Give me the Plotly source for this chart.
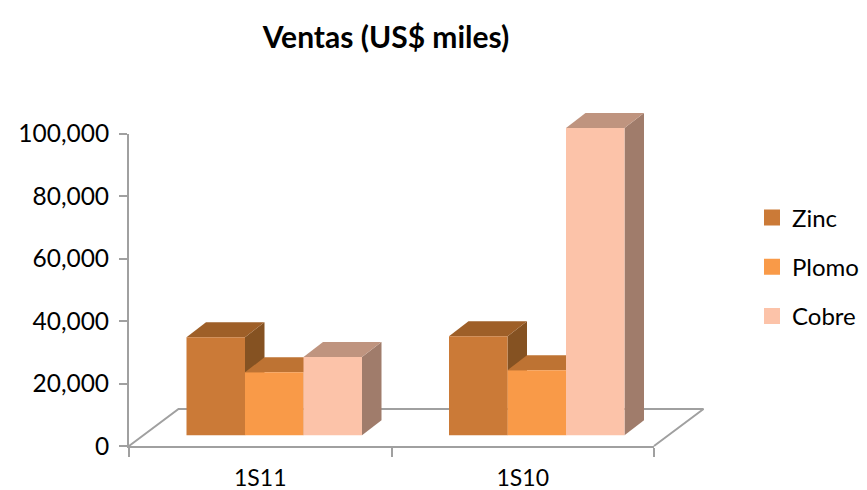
import plotly.graph_objects as go

categories = ["1S11", "1S10"]
series_names = ["Zinc", "Plomo", "Cobre"]
zinc = [31900, 32200]
plomo = [20500, 21200]
cobre = [25500, 100000]
series_values = [zinc, plomo, cobre]
front_colors = ["#CB7A37", "#F99A48", "#FCC3A9"]
top_colors = ["#9E5F28", "#BE7333", "#BF947F"]
side_colors = ["#855222", "#A5622A", "#A07C6B"]
y_ticks = [0, 20000, 40000, 60000, 80000, 100000]

W, H = 867, 490
FONT = "Lato"
AXIS_COLOR = "#A0A0A0"

# pixel frame
ax_l, ax_r, ax_t, ax_b = 129, 654, 133.5, 446
bar_dx, bar_t, bar_b = 14, 128, 435.3
px_per_cat = (ax_r - ax_l) / 2
px_per_val = (bar_b - bar_t) / 100000

bar_w = 58.5 / px_per_cat
depth_x = 19.5 / px_per_cat
depth_y = 15 / px_per_val

# full-page hidden scale for the bars and 3D faces (value units)
x_range = [-0.5 - (ax_l + bar_dx) / px_per_cat, -0.5 + (W - ax_l - bar_dx) / px_per_cat]
y_range = [-(H - bar_b) / px_per_val, bar_b / px_per_val]

# floor outline in the same units
fl = -0.5 - bar_dx / px_per_cat
fr = fl + 2
floor_front = -(ax_b - bar_b) / px_per_val
floor_back = floor_front + 37 / px_per_val
floor_skew = 49.5 / px_per_cat

fig = go.Figure()

# legend entries live on the visible axes
for i, name in enumerate(series_names):
    fig.add_trace(go.Scatter(
        x=[None], y=[None], name=name, mode="markers",
        marker=dict(symbol="square", size=16, color=front_colors[i]),
        legendgroup=name, xaxis="x", yaxis="y",
    ))

fig.add_trace(go.Scatter(
    x=[fl, fl + floor_skew, fr + floor_skew, fr],
    y=[floor_front, floor_back, floor_back, floor_front],
    mode="lines", line=dict(color=AXIS_COLOR, width=2),
    showlegend=False, hoverinfo="skip", xaxis="x2", yaxis="y2",
))

# side and top faces, under the fronts
for i, values in enumerate(series_values):
    for j, v in enumerate(values):
        l = j - 1.5 * bar_w + i * bar_w
        r = l + bar_w
        fig.add_trace(go.Scatter(
            x=[r, r + depth_x, r + depth_x, r, r], y=[0, depth_y, v + depth_y, v, 0],
            mode="lines", fill="toself", fillcolor=side_colors[i], line=dict(width=0),
            showlegend=False, hoverinfo="skip", xaxis="x2", yaxis="y2",
        ))
        fig.add_trace(go.Scatter(
            x=[l, l + depth_x, r + depth_x, r, l], y=[v, v + depth_y, v + depth_y, v, v],
            mode="lines", fill="toself", fillcolor=top_colors[i], line=dict(width=0),
            showlegend=False, hoverinfo="skip", xaxis="x2", yaxis="y2",
        ))

# fronts
for i, values in enumerate(series_values):
    fig.add_trace(go.Bar(
        x=[0, 1], y=values, name=series_names[i], marker=dict(color=front_colors[i], line=dict(width=0)),
        width=bar_w, offset=-1.5 * bar_w + i * bar_w,
        legendgroup=series_names[i], xaxis="x3", yaxis="y3", showlegend=False,
    ))

fig.update_layout(
    width=W, height=H, autosize=False,
    margin=dict(l=0, r=0, t=0, b=0, autoexpand=False),
    paper_bgcolor="white", plot_bgcolor="rgba(0,0,0,0)",
    font=dict(family=FONT, color="black"),
    title=dict(text="<b>Ventas (US$ miles)</b>", font=dict(family=FONT, size=30, color="black"),
               x=386 / W, xanchor="center", y=1 - 37 / H, yanchor="middle"),
    barmode="overlay",
    legend=dict(x=752 / W, xanchor="left", y=1 - 195.5 / H, yanchor="top", itemsizing="trace",
                font=dict(family=FONT, size=24), tracegroupgap=15, bgcolor="rgba(0,0,0,0)"),
    xaxis=dict(domain=[ax_l / W, ax_r / W], range=[-0.5, 1.5], tickvals=[0, 1], ticktext=categories,
               ticks="", tickfont=dict(family=FONT, size=23), ticklabelstandoff=10,
               showgrid=False, zeroline=False, showline=True, linecolor=AXIS_COLOR, linewidth=2,
               minor=dict(tickvals=[-0.5, 0.5, 1.5], ticks="outside", ticklen=9, tickcolor=AXIS_COLOR, tickwidth=2, showgrid=False),
               anchor="y"),
    yaxis=dict(domain=[1 - ax_b / H, 1 - ax_t / H], range=[0, 100000], tickvals=y_ticks, tickformat=",d",
               ticks="outside", ticklen=8, tickcolor=AXIS_COLOR, tickwidth=2, tickfont=dict(family=FONT, size=24.5),
               ticklabelstandoff=5,
               showgrid=False, zeroline=False, showline=True, linecolor=AXIS_COLOR, linewidth=2,
               anchor="x"),
    xaxis2=dict(domain=[0, 1], range=x_range, visible=False, anchor="y2"),
    yaxis2=dict(domain=[0, 1], range=y_range, visible=False, anchor="x2"),
    xaxis3=dict(overlaying="x2", domain=[0, 1], range=x_range, visible=False, anchor="y3"),
    yaxis3=dict(overlaying="y2", domain=[0, 1], range=y_range, visible=False, anchor="x3"),
)

fig.write_html("out.html", config={"displayModeBar": False}, post_script="document.body.style.margin='0';")
